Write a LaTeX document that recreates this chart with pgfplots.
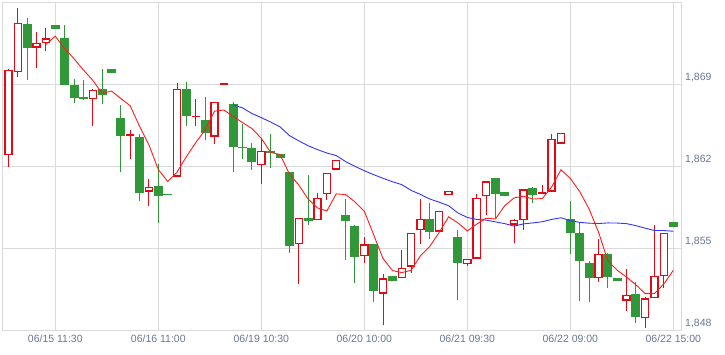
\documentclass[border=0pt]{standalone}
\usepackage{fontspec}
\setmainfont{Liberation Sans}
\usepackage{pgfplots}
\usepackage{pgfplotstable}
\pgfplotsset{compat=1.18}
\definecolor{cred}{RGB}{226,10,22}
\definecolor{cgreen}{RGB}{48,152,56}
\definecolor{mared}{RGB}{255,28,28}
\definecolor{mablue}{RGB}{52,52,255}
\definecolor{gridc}{RGB}{218,218,218}
\definecolor{labc}{RGB}{105,118,150}

% rising candles (hollow red): x open high low close
\pgfplotstableread{
x open high low close
0 1862.9 1870.3 1861.9 1870.2
1 1870.0 1875.5 1869.6 1874.2
3 1872.1 1873.4 1870.4 1872.5
4 1872.5 1873.8 1871.8 1872.9
9 1867.7 1868.6 1865.4 1868.5
13 1864.6 1865.1 1862.6 1864.6
15 1859.8 1860.9 1858.6 1860.2
18 1861.1 1869.1 1861.1 1868.6
20 1866.2 1867.7 1865.4 1866.2
22 1864.5 1867.5 1863.9 1867.5
23 1868.9 1869.1 1868.9 1869.1
27 1862.1 1864.3 1860.5 1863.3
31 1855.3 1857.6 1851.9 1857.6
33 1857.4 1859.7 1857.4 1859.3
34 1859.6 1861.4 1859.1 1861.4
35 1861.7 1862.5 1861.7 1862.5
38 1854.3 1855.9 1853.7 1855.3
40 1851.1 1852.8 1848.4 1852.4
42 1852.4 1854.8 1852.4 1853.3
43 1853.4 1856.3 1852.9 1856.3
44 1856.5 1859.2 1855.3 1857.5
46 1856.4 1858.2 1856.4 1858.2
47 1859.5 1859.9 1859.5 1859.9
49 1853.6 1854.1 1853.5 1854.1
50 1854.1 1859.6 1854.1 1859.3
51 1859.4 1860.7 1857.8 1860.7
54 1857.0 1857.5 1855.4 1857.4
55 1857.4 1860.0 1856.5 1860.0
57 1859.6 1860.4 1859.6 1859.8
58 1859.8 1864.7 1859.8 1864.3
59 1863.9 1864.8 1863.9 1864.8
63 1852.4 1855.8 1852.1 1854.5
66 1850.5 1853.2 1849.6 1851.0
68 1849.0 1850.8 1848.2 1850.7
69 1850.7 1857.0 1850.7 1852.6
70 1852.6 1856.3 1851.6 1856.3
}\upT

% falling candles (filled green): x open high low close
\pgfplotstableread{
x open high low close
2 1874.1 1874.6 1869.3 1872.1
5 1874.0 1874.0 1873.7 1873.7
6 1872.9 1874.0 1868.9 1868.9
7 1868.9 1869.4 1867.4 1867.8
8 1867.9 1869.3 1867.6 1867.7
10 1868.6 1870.3 1867.3 1868.1
11 1870.3 1870.3 1869.9 1869.9
12 1866.1 1867.2 1861.5 1864.6
14 1864.5 1864.7 1859.0 1859.7
16 1860.3 1862.2 1857.1 1859.4
17 1859.5 1859.5 1859.5 1859.5
19 1868.6 1869.2 1865.4 1866.3
21 1865.9 1867.9 1864.2 1864.8
24 1867.3 1867.5 1861.5 1863.6
25 1863.6 1865.6 1862.6 1863.5
26 1863.5 1864.0 1861.7 1862.3
28 1863.3 1864.7 1861.8 1863.1
29 1863.0 1863.0 1862.7 1862.7
30 1861.5 1861.5 1854.6 1855.2
32 1857.6 1861.2 1857.0 1857.3
36 1857.8 1859.2 1854.0 1857.3
37 1856.9 1857.0 1852.0 1854.2
39 1855.3 1855.3 1850.4 1851.3
41 1852.6 1852.6 1852.2 1852.2
45 1857.5 1858.8 1855.8 1856.4
48 1855.9 1856.5 1850.6 1853.7
52 1861.0 1861.0 1857.6 1859.6
53 1859.8 1859.8 1859.4 1859.4
56 1860.1 1860.2 1858.8 1859.5
60 1857.5 1859.0 1854.5 1856.3
61 1856.3 1857.2 1850.5 1853.9
62 1853.7 1853.9 1850.4 1852.4
64 1854.5 1854.6 1851.6 1852.5
65 1852.4 1852.4 1852.2 1852.2
67 1851.1 1852.1 1848.6 1849.1
71 1857.2 1857.2 1856.8 1856.8
}\downT

% short moving average (red)
\pgfplotstableread{
x ma
4 1872.38
5 1873.08
6 1872.02
7 1871.16
8 1870.20
9 1869.32
10 1868.20
11 1868.40
12 1867.76
13 1867.14
14 1865.38
15 1863.80
16 1861.70
17 1860.68
18 1861.48
19 1862.80
20 1864.00
21 1865.08
22 1866.68
23 1866.78
24 1866.24
25 1865.70
26 1865.20
27 1864.36
28 1863.16
29 1862.98
30 1861.32
31 1860.38
32 1859.18
33 1858.42
34 1858.16
35 1859.62
36 1859.56
37 1858.94
38 1858.14
39 1856.12
40 1854.10
41 1853.08
42 1852.90
43 1853.10
44 1854.34
45 1855.14
46 1856.34
47 1857.66
48 1857.14
49 1856.46
50 1857.04
51 1857.54
52 1857.48
53 1858.62
54 1859.28
55 1859.42
56 1859.18
57 1859.22
58 1860.20
59 1861.68
60 1860.94
61 1859.82
62 1858.34
63 1856.38
64 1853.92
65 1853.10
66 1852.52
67 1851.86
68 1851.10
69 1851.12
70 1851.94
71 1853.10
}\maShort

% long moving average (blue)
\pgfplotstableread{
x ma
24 1867.22
25 1866.96
26 1866.48
27 1866.13
28 1865.75
29 1865.34
30 1864.60
31 1864.15
32 1863.73
33 1863.40
34 1863.11
35 1862.89
36 1862.38
37 1861.97
38 1861.60
39 1861.26
40 1860.95
41 1860.66
42 1860.41
43 1859.92
44 1859.57
45 1859.18
46 1858.91
47 1858.61
48 1857.99
49 1857.61
50 1857.44
51 1857.38
52 1857.23
53 1857.08
54 1856.87
55 1857.06
56 1857.14
57 1857.24
58 1857.44
59 1857.58
60 1857.33
61 1857.19
62 1857.12
63 1857.09
64 1857.14
65 1857.13
66 1857.08
67 1856.91
68 1856.69
69 1856.49
70 1856.49
71 1856.43
}\maLong

\pgfplotsset{
  candle/.style 2 args={only marks, mark=*, mark size=0pt,
    mark options={draw=none, fill=none},
    error bars/.cd, y dir=plus, y explicit, error mark=none,
    error bar style={draw=#1, line width=#2}},
}

\begin{document}
\begin{tikzpicture}
\begin{axis}[
  scale only axis, width=678.5pt, height=328pt,
  xmin=-0.64, xmax=71.82, ymin=1848, ymax=1876,
  axis line style={gridc, line width=1pt},
  grid=major, major grid style={gridc, line width=0.9pt},
  xtick={5,16,27,38,49,60,71},
  xticklabels={06/15 11:30,06/16 11:00,06/19 10:30,06/20 10:00,06/21 09:30,06/22 09:00,06/22 15:00},
  ytick={1848,1855,1862,1869},
  yticklabels={{1,848},{1,855},{1,862},{1,869}},
  yticklabel pos=right,
  major tick length=0pt,
  tick label style={font=\fontsize{10.5}{12}\selectfont, text=labc},
  xticklabel style={anchor=north, inner sep=0pt, yshift=-5pt},
  yticklabel style={anchor=west, inner sep=0pt, xshift=4pt, yshift=6pt},
]
% wicks
\addplot[candle={cred}{1pt}]
  table[x=x, y=low, y error expr=\thisrow{high}-\thisrow{low}] {\upT};
\addplot[candle={cgreen}{1pt}]
  table[x=x, y=low, y error expr=\thisrow{high}-\thisrow{low}] {\downT};
% green bodies
\addplot[candle={cgreen}{9pt}]
  table[x=x, y=close, y error expr={max(\thisrow{open}-\thisrow{close},0.11)}] {\downT};
% red bodies: outline then white inside
\addplot[candle={cred}{8.4pt}]
  table[x=x, y=open, y error expr={max(\thisrow{close}-\thisrow{open},0.11)}] {\upT};
\addplot[candle={white}{5.8pt}]
  table[x=x, y expr=\thisrow{open}+0.11, y error expr={max(\thisrow{close}-\thisrow{open}-0.22,0)}] {\upT};
% moving averages
\addplot[mablue, line width=0.9pt, mark=none] table[x=x, y=ma] {\maLong};
\addplot[mared, line width=0.9pt, mark=none] table[x=x, y=ma] {\maShort};
\end{axis}
\pgfresetboundingbox
\path (-2.5pt,-24pt) rectangle (722.5pt,330pt);
\end{tikzpicture}
\end{document}
